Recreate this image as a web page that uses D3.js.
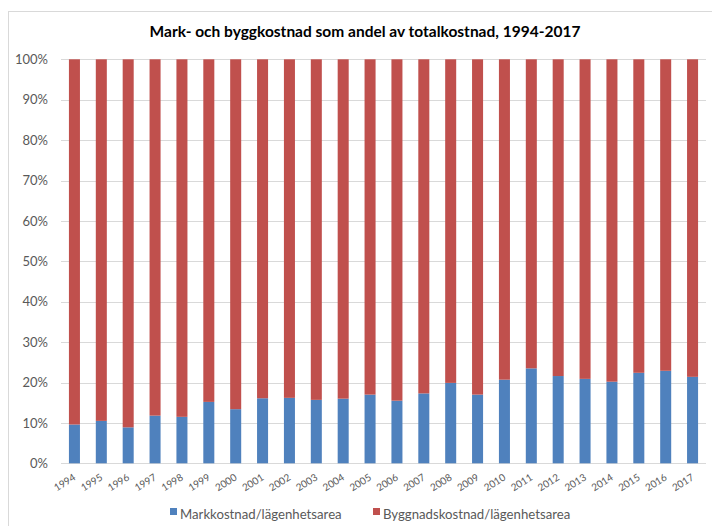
<!DOCTYPE html>
<html><head><meta charset="utf-8">
<script src="https://cdn.jsdelivr.net/npm/d3@7"></script>
<style>
body{margin:0;background:#fff;}
svg{display:block;font-family:Lato,"Open Sans",sans-serif;}
</style></head>
<body><svg id="c" width="712" height="526"></svg>
<script>
const years = ["1994","1995","1996","1997","1998","1999","2000","2001","2002","2003","2004","2005","2006","2007","2008","2009","2010","2011","2012","2013","2014","2015","2016","2017"];
const markkostnad = [9.6,10.5,8.9,11.8,11.5,15.2,13.4,16.1,16.2,15.7,16.0,17.0,15.5,17.3,19.9,17.0,20.7,23.5,21.6,20.9,20.2,22.4,22.9,21.4];
const byggkostnad = markkostnad.map(v => 100 - v);
const yTicks = [0,10,20,30,40,50,60,70,80,90,100];
const seriesNames = ["Markkostnad/lägenhetsarea","Byggnadskostnad/lägenhetsarea"];
const colors = ["#4F81BD","#C0504D"];
const title = "Mark- och byggkostnad som andel av totalkostnad, 1994-2017";

const svg = d3.select("#c");
// frame
svg.append("rect").attr("x",8.5).attr("y",11.5).attr("width",720).attr("height",530)
  .attr("fill","none").attr("stroke","#d9d9d9");

const x = d3.scaleBand().domain(years).range([61,706]).paddingInner(0.59).paddingOuter(0.295);
const y = d3.scaleLinear().domain([0,100]).range([463.3,59.3]);

// gridlines
svg.append("g").selectAll("line").data(yTicks).join("line")
  .attr("x1",61).attr("x2",706).attr("y1",d=>Math.round(y(d))+0.5).attr("y2",d=>Math.round(y(d))+0.5)
  .attr("stroke","#d9d9d9").attr("stroke-width",1);

// y axis labels
const yAxis = d3.axisLeft(y).tickValues(yTicks).tickFormat(d=>d+"%").tickSize(0).tickPadding(0);
const yg = svg.append("g").attr("transform","translate(48,0)").call(yAxis);
yg.select(".domain").remove();
yg.selectAll("text").attr("fill","#595959").style("font-size","13px").style("font-family","Lato,'Open Sans',sans-serif");

// stacked bars
const data = years.map((yr,i)=>({year:yr, mark:markkostnad[i], bygg:byggkostnad[i]}));
const stack = d3.stack().keys(["mark","bygg"])(data);
svg.append("g").selectAll("g").data(stack).join("g").attr("fill",(d,i)=>colors[i])
  .selectAll("rect").data(d=>d).join("rect")
  .attr("x",d=>x(d.data.year)).attr("width",x.bandwidth())
  .attr("y",d=>y(d[1])).attr("height",d=>y(d[0])-y(d[1]));

// x axis labels
const xAxis = d3.axisBottom(x).tickSize(0).tickPadding(0);
const xg = svg.append("g").attr("transform","translate(0,463.3)").call(xAxis);
xg.select(".domain").remove();
xg.selectAll("text").attr("fill","#595959").style("font-size","10px")
  .style("font-family","Lato,'Open Sans',sans-serif")
  .attr("text-anchor","end").attr("dy",null).attr("y",0)
  .attr("transform","translate(2,16) rotate(-32)");

// title
svg.append("text").attr("x",365).attr("y",37).attr("text-anchor","middle")
  .style("font-size","15.5px").style("font-weight","bold").attr("fill","#000").text(title);

// legend
const legX = [170,373];
seriesNames.forEach((n,i)=>{
  svg.append("rect").attr("x",legX[i]).attr("y",508).attr("width",7).attr("height",7).attr("fill",colors[i]);
  svg.append("text").attr("x",legX[i]+10).attr("y",519).attr("fill","#595959")
    .style("font-size","13.2px").text(n);
});
</script></body></html>
